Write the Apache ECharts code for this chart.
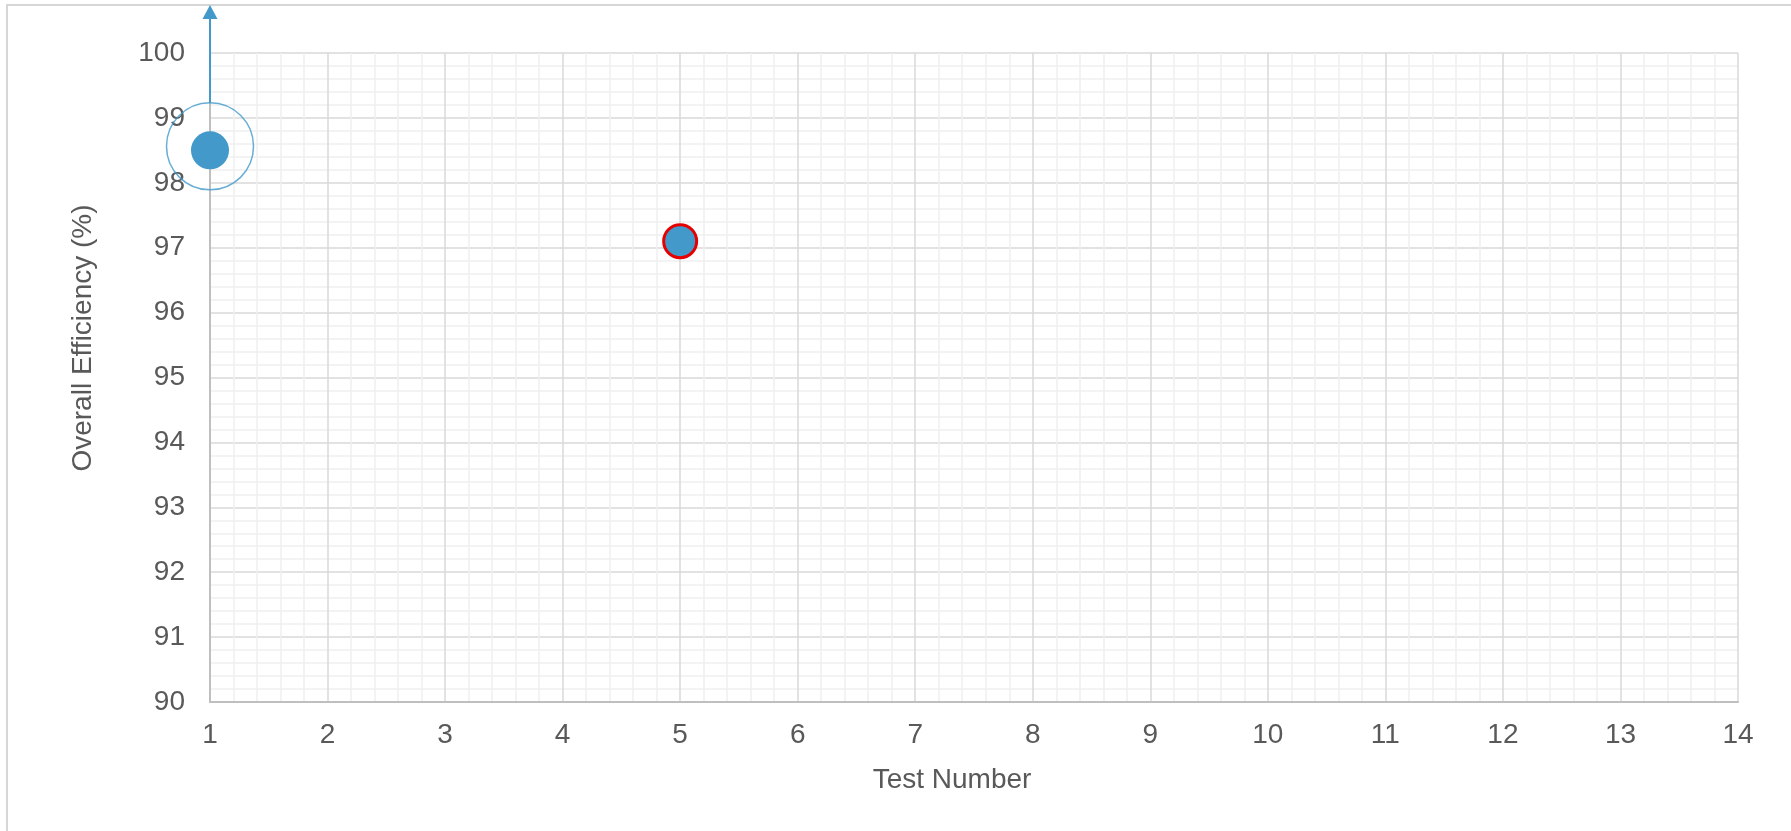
<!DOCTYPE html>
<html>
<head>
<meta charset="utf-8">
<script src="https://cdn.jsdelivr.net/npm/echarts@6/dist/echarts.min.js"></script>
<style>
  html, body { margin: 0; padding: 0; background: #ffffff; overflow: hidden; }
  #frame { position: absolute; left: 6px; top: 4px; width: 2000px; height: 2000px; border: 2px solid #d6d6d6; box-sizing: border-box; }
  #chart { position: absolute; left: 0; top: 0; width: 1791px; height: 831px; }
</style>
</head>
<body>
<div id="frame"></div>
<div id="chart"></div>
<script>
// ---- data ----
const testNumbers = [1, 5];
const efficiency = [98.5, 97.1];
const xAxisRange = [1, 14];
const yAxisRange = [90, 100];
const xAxisTitle = 'Test Number';
const yAxisTitle = 'Overall Efficiency (%)';
const highlightedTest = 1;       // point circled with arrow
const flaggedTest = 5;           // point with red outline
const arrowFromValue = 99.23;    // arrow start (top of the ring)
const arrowToValue = 100.74;     // arrow tip (above the plot)

const BLUE = '#4399c9';
const RED = '#e60000';
const TEXT = '#595959';
const FONT = 'Liberation Sans, Arial, sans-serif';

const points = testNumbers.map((x, i) => {
  const p = { value: [x, efficiency[i]] };
  if (x === flaggedTest) {
    p.symbolSize = 33;
    p.itemStyle = { color: BLUE, borderColor: RED, borderWidth: 3 };
  }
  return p;
});
const ringPoint = testNumbers
  .map((x, i) => [x, efficiency[i]])
  .filter(d => d[0] === highlightedTest);
const arrowData = [[highlightedTest, arrowFromValue, arrowToValue]];

const chart = echarts.init(document.getElementById('chart'), null, { renderer: 'canvas' });
chart.setOption({
  animation: false,
  backgroundColor: 'transparent',
  grid: { left: 210, top: 53, right: 53, bottom: 129, containLabel: false, outerBoundsMode: 'none' },
  xAxis: {
    type: 'value',
    min: xAxisRange[0], max: xAxisRange[1], interval: 1,
    name: xAxisTitle,
    nameLocation: 'middle',
    nameGap: 64,
    nameTextStyle: { color: TEXT, fontSize: 28, fontFamily: FONT, padding: [0, 44, 0, 0] },
    axisLine: { show: true, lineStyle: { color: '#bfbfbf', width: 2 } },
    axisTick: { show: false },
    axisLabel: { color: TEXT, fontSize: 28, fontFamily: FONT, margin: 19 },
    splitLine: { show: true, lineStyle: { color: '#d9d9d9', width: 1.5 } },
    minorTick: { show: false, splitNumber: 5 },
    minorSplitLine: { show: true, lineStyle: { color: '#efefef', width: 1.5 } }
  },
  yAxis: {
    type: 'value',
    min: yAxisRange[0], max: yAxisRange[1], interval: 1,
    name: yAxisTitle,
    nameLocation: 'middle',
    nameGap: 113,
    nameRotate: 90,
    nameTextStyle: { color: TEXT, fontSize: 28, fontFamily: FONT, padding: [0, 0, 0, 79] },
    axisLine: { show: true, lineStyle: { color: '#bfbfbf', width: 2 } },
    axisTick: { show: false },
    axisLabel: { color: TEXT, fontSize: 28, fontFamily: FONT, margin: 25 },
    splitLine: { show: true, lineStyle: { color: '#d9d9d9', width: 1.5 } },
    minorTick: { show: false, splitNumber: 5 },
    minorSplitLine: { show: true, lineStyle: { color: '#efefef', width: 1.5 } }
  },
  series: [
    {
      name: 'arrow',
      type: 'custom',
      clip: false,
      silent: true,
      z: 3,
      data: arrowData,
      encode: { x: 0, y: [1, 2] },
      renderItem: function (params, api) {
        const from = api.coord([api.value(0), api.value(1)]);
        const tip = api.coord([api.value(0), api.value(2)]);
        const headH = 14, headW = 15;
        return {
          type: 'group',
          children: [
            {
              type: 'line',
              shape: { x1: from[0], y1: from[1], x2: tip[0], y2: tip[1] + headH - 1 },
              style: { stroke: BLUE, lineWidth: 2 }
            },
            {
              type: 'polygon',
              shape: { points: [[tip[0], tip[1]], [tip[0] + headW / 2, tip[1] + headH], [tip[0] - headW / 2, tip[1] + headH]] },
              style: { fill: BLUE }
            }
          ]
        };
      }
    },
    {
      name: 'ring',
      type: 'scatter',
      clip: false,
      silent: true,
      z: 3,
      data: ringPoint,
      symbol: 'circle',
      symbolSize: 87,
      symbolOffset: [0, -4],
      itemStyle: { color: 'rgba(0,0,0,0)', borderColor: BLUE, borderWidth: 1.5 }
    },
    {
      name: 'Overall Efficiency',
      type: 'scatter',
      clip: false,
      z: 4,
      symbol: 'circle',
      symbolSize: 38,
      itemStyle: { color: BLUE, opacity: 1 },
      data: points
    }
  ]
});
</script>
</body>
</html>
